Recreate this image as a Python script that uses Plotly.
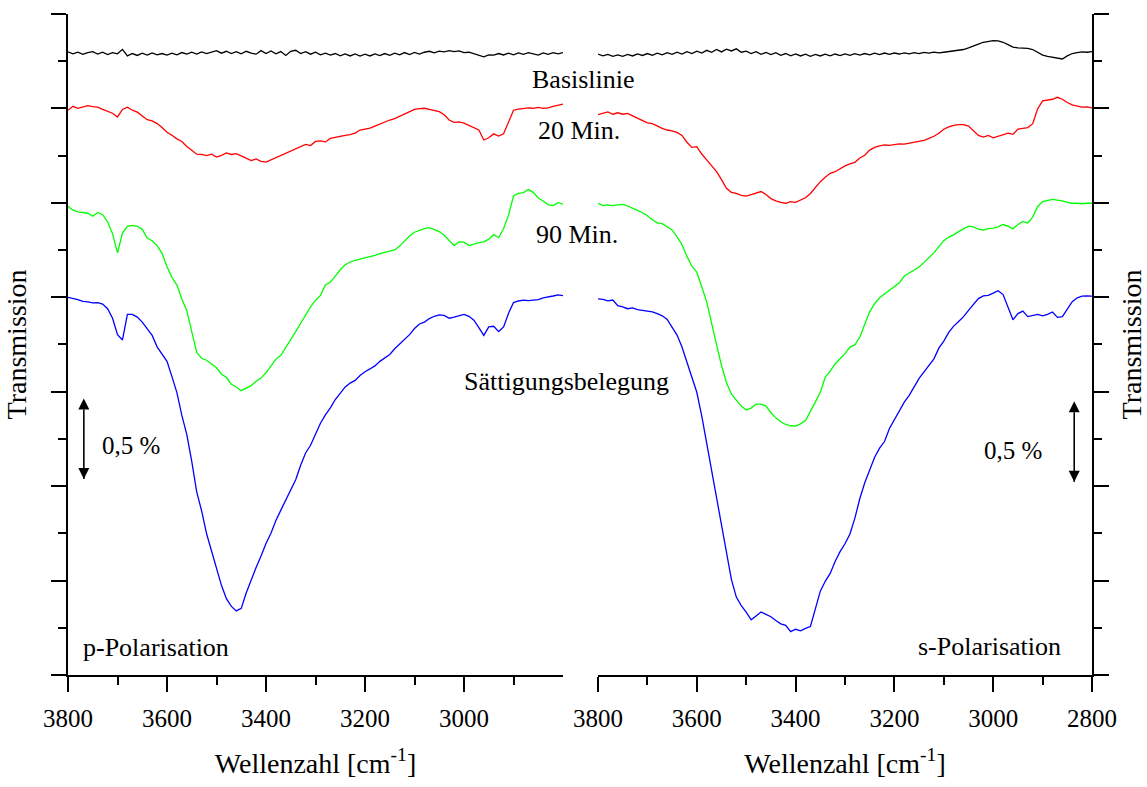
import numpy as np
import plotly.graph_objects as go

# Wavenumber grid of the recorded spectra (cm^-1), 10 cm^-1 spacing
WAVENUMBER = np.arange(3800, 2799, -10)

# ---- p-polarisation spectra (transmission in %, stacked with offsets) ----
BASIS_P = [3.870, 3.858, 3.868, 3.855, 3.866, 3.872, 3.857, 3.868, 3.854, 3.866,
           3.858, 3.886, 3.845, 3.860, 3.848, 3.862, 3.850, 3.864, 3.852, 3.860,
           3.850, 3.862, 3.852, 3.866, 3.856, 3.868, 3.857, 3.870, 3.860, 3.868,
           3.878, 3.862, 3.874, 3.860, 3.872, 3.858, 3.874, 3.862, 3.856, 3.878,
           3.860, 3.876, 3.858, 3.872, 3.848, 3.874, 3.880, 3.860, 3.872, 3.856,
           3.868, 3.852, 3.862, 3.850, 3.860, 3.846, 3.858, 3.845, 3.857, 3.844,
           3.856, 3.845, 3.858, 3.847, 3.860, 3.849, 3.862, 3.852, 3.866, 3.854,
           3.867, 3.856, 3.868, 3.874, 3.864, 3.875, 3.870, 3.878, 3.872, 3.876,
           3.866, 3.868, 3.858, 3.846, 3.840, 3.852, 3.850, 3.860, 3.851, 3.862,
           3.852, 3.864, 3.855, 3.866, 3.856, 3.850, 3.864, 3.855, 3.866, 3.858,
           3.866]
MIN20_P = [3.508, 3.532, 3.520, 3.530, 3.536, 3.530, 3.527, 3.513, 3.503, 3.489,
           3.466, 3.513, 3.527, 3.508, 3.496, 3.473, 3.449, 3.442, 3.425, 3.401,
           3.371, 3.352, 3.330, 3.314, 3.283, 3.259, 3.235, 3.233, 3.226, 3.235,
           3.217, 3.228, 3.243, 3.233, 3.238, 3.224, 3.212, 3.195, 3.205, 3.190,
           3.186, 3.200, 3.212, 3.228, 3.243, 3.257, 3.266, 3.281, 3.295, 3.288,
           3.314, 3.318, 3.311, 3.333, 3.340, 3.345, 3.352, 3.356, 3.366, 3.385,
           3.390, 3.397, 3.409, 3.423, 3.437, 3.447, 3.456, 3.470, 3.484, 3.503,
           3.513, 3.518, 3.520, 3.513, 3.508, 3.499, 3.480, 3.447, 3.432, 3.435,
           3.428, 3.413, 3.401, 3.385, 3.323, 3.337, 3.361, 3.347, 3.361, 3.437,
           3.508, 3.515, 3.518, 3.522, 3.520, 3.525, 3.520, 3.522, 3.532, 3.539,
           3.546]
MIN90_P = [2.911, 2.887, 2.877, 2.873, 2.868, 2.849, 2.873, 2.859, 2.815, 2.740,
           2.622, 2.745, 2.787, 2.792, 2.787, 2.768, 2.714, 2.697, 2.667, 2.619,
           2.536, 2.470, 2.422, 2.335, 2.263, 2.133, 2.003, 1.967, 1.955, 1.932,
           1.908, 1.868, 1.849, 1.806, 1.789, 1.766, 1.782, 1.797, 1.825, 1.844,
           1.877, 1.920, 1.962, 1.986, 2.038, 2.086, 2.133, 2.185, 2.240, 2.287,
           2.328, 2.358, 2.422, 2.441, 2.477, 2.517, 2.548, 2.565, 2.576, 2.584,
           2.588, 2.598, 2.607, 2.617, 2.626, 2.631, 2.640, 2.664, 2.697, 2.726,
           2.750, 2.764, 2.773, 2.778, 2.768, 2.754, 2.731, 2.697, 2.667, 2.690,
           2.688, 2.667, 2.679, 2.686, 2.690, 2.707, 2.735, 2.716, 2.773, 2.856,
           2.975, 2.991, 2.996, 3.015, 2.998, 2.963, 2.944, 2.920, 2.915, 2.934,
           2.925]
SAT_P = [2.346, 2.339, 2.332, 2.320, 2.318, 2.311, 2.313, 2.304, 2.275, 2.216,
         2.114, 2.081, 2.240, 2.240, 2.223, 2.192, 2.147, 2.109, 2.038, 1.991,
         1.948, 1.853, 1.754, 1.612, 1.493, 1.327, 1.137, 1.019, 0.877, 0.770,
         0.663, 0.557, 0.474, 0.426, 0.398, 0.414, 0.509, 0.592, 0.668, 0.739,
         0.817, 0.881, 0.960, 1.024, 1.085, 1.149, 1.213, 1.303, 1.379, 1.427,
         1.493, 1.564, 1.616, 1.659, 1.711, 1.754, 1.789, 1.813, 1.830, 1.860,
         1.884, 1.901, 1.920, 1.948, 1.967, 1.991, 2.026, 2.057, 2.086, 2.114,
         2.152, 2.180, 2.192, 2.214, 2.228, 2.237, 2.233, 2.216, 2.223, 2.233,
         2.240, 2.228, 2.204, 2.157, 2.109, 2.162, 2.166, 2.133, 2.162, 2.247,
         2.313, 2.323, 2.328, 2.325, 2.330, 2.332, 2.342, 2.346, 2.354, 2.361,
         2.356]

# ---- s-polarisation spectra ----
BASIS_S = [3.856, 3.846, 3.855, 3.843, 3.852, 3.842, 3.854, 3.845, 3.858, 3.848,
           3.860, 3.849, 3.862, 3.852, 3.865, 3.855, 3.868, 3.857, 3.871, 3.860,
           3.875, 3.863, 3.880, 3.868, 3.885, 3.870, 3.887, 3.876, 3.889, 3.868,
           3.875, 3.860, 3.871, 3.855, 3.867, 3.853, 3.865, 3.849, 3.860, 3.846,
           3.858, 3.845, 3.856, 3.843, 3.855, 3.845, 3.856, 3.846, 3.857, 3.847,
           3.858, 3.849, 3.859, 3.850, 3.860, 3.852, 3.862, 3.853, 3.863, 3.855,
           3.863, 3.857, 3.864, 3.858, 3.866, 3.860, 3.867, 3.862, 3.869, 3.864,
           3.868, 3.872, 3.875, 3.880, 3.885, 3.895, 3.905, 3.918, 3.930, 3.936,
           3.940, 3.938, 3.930, 3.915, 3.900, 3.895, 3.893, 3.892, 3.885, 3.870,
           3.850, 3.842, 3.838, 3.832, 3.826, 3.845, 3.860, 3.866, 3.870, 3.868,
           3.872]
MIN20_S = [3.480, 3.488, 3.497, 3.483, 3.492, 3.483, 3.488, 3.473, 3.458, 3.444,
           3.429, 3.424, 3.409, 3.395, 3.385, 3.380, 3.370, 3.351, 3.309, 3.277,
           3.282, 3.236, 3.199, 3.162, 3.126, 3.077, 3.023, 2.998, 2.991, 2.979,
           2.974, 2.984, 2.994, 3.003, 2.984, 2.959, 2.945, 2.935, 2.930, 2.940,
           2.935, 2.950, 2.964, 2.991, 3.028, 3.064, 3.091, 3.116, 3.126, 3.145,
           3.162, 3.175, 3.184, 3.211, 3.228, 3.260, 3.277, 3.287, 3.292, 3.289,
           3.294, 3.299, 3.297, 3.304, 3.307, 3.316, 3.321, 3.333, 3.346, 3.365,
           3.390, 3.404, 3.414, 3.419, 3.419, 3.409, 3.380, 3.351, 3.341, 3.351,
           3.336, 3.346, 3.356, 3.365, 3.358, 3.390, 3.395, 3.400, 3.424, 3.517,
           3.566, 3.571, 3.576, 3.588, 3.576, 3.556, 3.541, 3.534, 3.527, 3.529,
           3.522]
MIN90_S = [2.930, 2.915, 2.920, 2.915, 2.920, 2.923, 2.913, 2.901, 2.886, 2.871,
           2.852, 2.827, 2.808, 2.803, 2.783, 2.764, 2.722, 2.673, 2.600, 2.539,
           2.502, 2.416, 2.319, 2.184, 2.050, 1.922, 1.817, 1.744, 1.707, 1.670,
           1.646, 1.658, 1.683, 1.683, 1.670, 1.629, 1.597, 1.573, 1.556, 1.548,
           1.546, 1.560, 1.580, 1.634, 1.695, 1.756, 1.849, 1.888, 1.932, 1.964,
           1.996, 2.037, 2.050, 2.099, 2.184, 2.257, 2.306, 2.343, 2.367, 2.392,
           2.416, 2.436, 2.478, 2.495, 2.514, 2.534, 2.563, 2.593, 2.622, 2.661,
           2.698, 2.720, 2.734, 2.754, 2.771, 2.788, 2.783, 2.769, 2.764, 2.773,
           2.776, 2.783, 2.798, 2.788, 2.771, 2.798, 2.817, 2.808, 2.844, 2.910,
           2.940, 2.949, 2.954, 2.949, 2.945, 2.935, 2.930, 2.930, 2.927, 2.930,
           2.930]
SAT_S = [2.336, 2.333, 2.324, 2.329, 2.294, 2.287, 2.275, 2.280, 2.270, 2.265,
         2.260, 2.255, 2.245, 2.231, 2.208, 2.160, 2.111, 2.037, 1.940, 1.842,
         1.756, 1.609, 1.438, 1.267, 1.120, 0.937, 0.753, 0.594, 0.484, 0.431,
         0.391, 0.343, 0.367, 0.391, 0.377, 0.362, 0.338, 0.318, 0.308, 0.269,
         0.284, 0.274, 0.289, 0.301, 0.411, 0.521, 0.582, 0.631, 0.705, 0.766,
         0.815, 0.876, 0.974, 1.096, 1.194, 1.279, 1.353, 1.409, 1.450, 1.531,
         1.585, 1.639, 1.695, 1.737, 1.793, 1.842, 1.883, 1.922, 1.964, 2.030,
         2.074, 2.128, 2.167, 2.196, 2.226, 2.265, 2.299, 2.338, 2.355, 2.358,
         2.372, 2.387, 2.363, 2.282, 2.206, 2.245, 2.260, 2.226, 2.235, 2.240,
         2.231, 2.240, 2.255, 2.221, 2.226, 2.275, 2.319, 2.343, 2.353, 2.355,
         2.353]

CURVE_COLORS = ["#000000", "#ff0000", "#00ff00", "#0000ff"]

# Axis ticks
X_MAJOR_P = [3800, 3600, 3400, 3200, 3000]
X_MAJOR_S = [3800, 3600, 3400, 3200, 3000, 2800]
X_MINOR = [3700, 3500, 3300, 3100, 2900]
Y_STEP = 0.5865            # spacing of the (unlabelled) transmission ticks, %
N_Y_STEPS = 7
SCALE_BAR = 0.5            # length of the "0,5 %" scale bar, %
SCALE_BARS = [("x", "y", 3768, 1.217), ("x2", "y2", 2836, 1.200)]

X_TITLE = "Wellenzahl [cm<sup>-1</sup>]"
Y_TITLE = "Transmission"

# Figure geometry (px)
W, H = 1147, 787
ML, MR, MT, MB = 68, 55, 14, 112
FONT = "Liberation Serif, Times New Roman, serif"


def px_x(px):
    return (px - ML) / (W - ML - MR)


def px_y(py):
    return (H - MB - py) / (H - MT - MB)


fig = go.Figure()
for ys, col in zip([BASIS_P, MIN20_P, MIN90_P, SAT_P], CURVE_COLORS):
    fig.add_trace(go.Scatter(x=WAVENUMBER, y=ys, mode="lines", xaxis="x", yaxis="y",
                             line=dict(color=col, width=1.3), showlegend=False,
                             hoverinfo="skip"))
for ys, col in zip([BASIS_S, MIN20_S, MIN90_S, SAT_S], CURVE_COLORS):
    fig.add_trace(go.Scatter(x=WAVENUMBER, y=ys, mode="lines", xaxis="x2", yaxis="y2",
                             line=dict(color=col, width=1.3), showlegend=False,
                             hoverinfo="skip"))

# Double-headed "0,5 %" scale bars
for xr, yr, xpos, y0 in SCALE_BARS:
    fig.add_trace(go.Scatter(x=[xpos, xpos], y=[y0, y0 + SCALE_BAR], mode="lines+markers",
                             xaxis=xr, yaxis=yr, showlegend=False, hoverinfo="skip",
                             line=dict(color="black", width=1.6),
                             marker=dict(symbol=["arrow-down", "arrow-up"], size=11,
                                         color="black", line=dict(width=0))))

y_top = Y_STEP * N_Y_STEPS
y_major = [round(Y_STEP * k, 4) for k in range(N_Y_STEPS + 1)]
y_minor = [round(Y_STEP * (k + 0.5), 4) for k in range(N_Y_STEPS)]

common_x = dict(range=[3800, 2800], showline=True, linecolor="black", linewidth=2,
                ticks="outside", ticklen=15, tickwidth=2, tickcolor="black",
                showgrid=False, zeroline=False, tickmode="array",
                tickfont=dict(family=FONT, size=25, color="black"),
                ticklabelstandoff=5,
                title=dict(text=X_TITLE, standoff=22,
                           font=dict(family=FONT, size=28, color="black")),
                minor=dict(tickmode="array", tickvals=X_MINOR, ticks="outside",
                           ticklen=8, tickwidth=2, tickcolor="black", showgrid=False))
common_y = dict(range=[0, y_top + 1e-6], showline=True, linecolor="black", linewidth=2,
                ticks="outside", ticklen=15, tickwidth=2, tickcolor="black",
                showgrid=False, zeroline=False, tickmode="array", tickvals=y_major,
                showticklabels=False,
                title=dict(text=Y_TITLE, standoff=16,
                           font=dict(family=FONT, size=28, color="black")),
                minor=dict(tickmode="array", tickvals=y_minor, ticks="outside",
                           ticklen=8, tickwidth=2, tickcolor="black", showgrid=False))

fig.update_layout(
    width=W, height=H,
    margin=dict(l=ML, r=MR, t=MT, b=MB, pad=0, autoexpand=False),
    paper_bgcolor="white", plot_bgcolor="white",
    font=dict(family=FONT, size=25, color="black"),
    xaxis=dict(domain=[0, px_x(563)], anchor="y", tickvals=X_MAJOR_P, **common_x),
    xaxis2=dict(domain=[px_x(598), 1], anchor="y2", tickvals=X_MAJOR_S, **common_x),
    yaxis=dict(domain=[0, 1], anchor="x", side="left", **common_y),
    yaxis2=dict(domain=[0, 1], anchor="x2", side="right", **common_y),
)

ann = []


def label(text, px, py, size, xanchor="center"):
    ann.append(dict(text=text, x=px_x(px), y=px_y(py), xref="paper", yref="paper",
                    xanchor=xanchor, yanchor="middle", showarrow=False,
                    font=dict(family=FONT, size=size, color="black")))


label("Basislinie", 583, 80, 26)
label("20 Min.", 579, 131, 26)
label("90 Min.", 577, 234, 26)
label("Sättigungsbelegung", 566, 381, 26)
label("0,5 %", 131, 446, 25)
label("0,5 %", 1013, 450, 25)
label("p-Polarisation", 81, 647, 26, xanchor="left")
label("s-Polarisation", 1063, 646, 26, xanchor="right")

fig.update_layout(annotations=ann)
fig.write_html("out.html")
